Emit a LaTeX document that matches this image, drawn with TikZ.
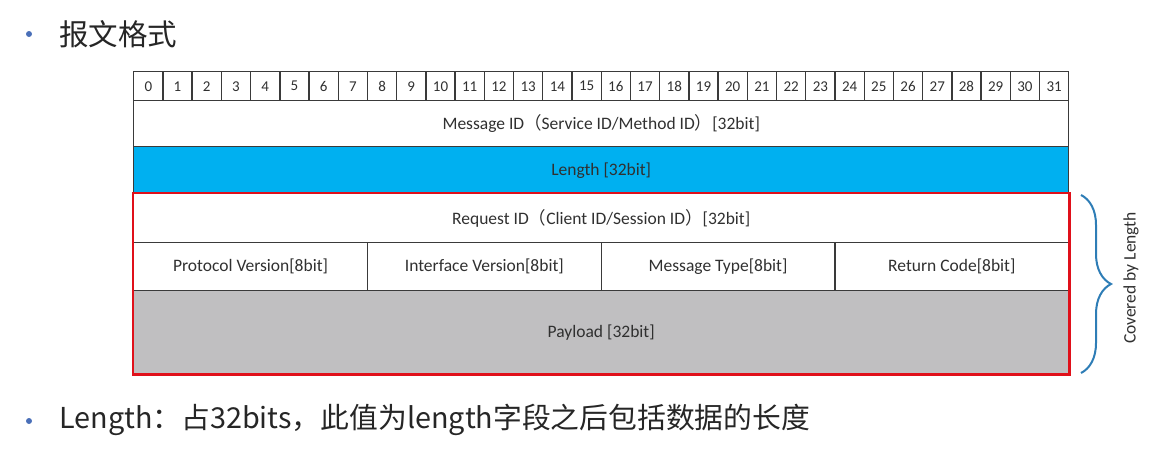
\documentclass[tikz,border=0pt]{standalone}
\usepackage{fontspec}
\setmainfont{Carlito}
\newfontfamily\cjk{Noto Sans CJK SC}
\usetikzlibrary{decorations.pathreplacing,fit}
\definecolor{gridline}{HTML}{3A3A3A}
\definecolor{fieldtext}{HTML}{303030}
\definecolor{lenblue}{HTML}{00B0F0}
\definecolor{paygray}{HTML}{C0BFC1}
\definecolor{framered}{HTML}{E0101A}
\definecolor{bracecol}{HTML}{2E7DB6}
\definecolor{bulletcol}{HTML}{4A6FB8}
\definecolor{headtext}{HTML}{262626}
\begin{document}
\begin{tikzpicture}[x=1pt,y=-1pt,
  cell/.style={draw=gridline, line width=1.4pt, anchor=north west, inner sep=0pt,
    text=fieldtext, font=\fontsize{17.5}{20}\selectfont},
  bitcell/.style={cell, minimum width=29.22pt, minimum height=29pt,
    font=\fontsize{15}{17}\selectfont},
  rowcell/.style={cell, minimum width=935pt},
  quarter/.style={cell, minimum width=233.75pt, minimum height=48pt},
  bulletdot/.style={circle, fill=bulletcol, inner sep=0pt, minimum size=6pt},
  heading/.style={anchor=west, inner sep=0pt, text=headtext}
]
\useasboundingbox (0,0) rectangle (1161,461);

% heading
\node[bulletdot] (dot1) at (29,34) {};
\node[heading, font=\cjk\fontsize{29.5}{32}\selectfont] (title) at (59,34) {报文格式};

% bit numbers 0..31
\foreach \i in {0,...,31} {
  \node[bitcell] (b\i) at ({133+29.22*\i},71) {\i};
}

% header words
\node[rowcell, minimum height=46pt] (msgid) at (133,100)
  {Message ID{\cjk（}Service ID/Method ID{\cjk）}[32bit]};
\node[rowcell, minimum height=47pt, fill=lenblue] (len) at (133,146)
  {Length [32bit]};
\node[rowcell, minimum height=49pt] (reqid) at (133,193)
  {Request ID{\cjk（}Client ID/Session ID{\cjk）}[32bit]};
\node[quarter] (proto) at (133,242) {Protocol Version[8bit]};
\node[quarter] (iface) at (366.75,242) {Interface Version[8bit]};
\node[quarter] (mtype) at (600.5,242) {Message Type[8bit]};
\node[quarter] (rcode) at (834.25,242) {Return Code[8bit]};
\node[rowcell, minimum height=83pt, fill=paygray] (payload) at (133,290)
  {Payload [32bit]};

% part counted by the length field
\node[draw=framered, line width=2.8pt, inner sep=0pt, fit=(reqid)(payload)] (covered) {};

% brace and its label
\coordinate (bracetop) at (1081,195);
\coordinate (bracebot) at (1081,373);
\draw[bracecol, line width=2pt, decorate,
  decoration={brace, amplitude=30pt, aspect=0.5}] (bracetop) -- (bracebot);
\node[rotate=90, text=fieldtext, font=\fontsize{17.5}{20}\selectfont] (covlabel)
  at (1131,278) {Covered by Length};

% note line
\node[bulletdot] (dot2) at (29,421) {};
\node[heading, font=\cjk\fontsize{28.8}{32}\selectfont] (note) at (59,420)
  {Length：占32bits，此值为length字段之后包括数据的长度};
\end{tikzpicture}
\end{document}
